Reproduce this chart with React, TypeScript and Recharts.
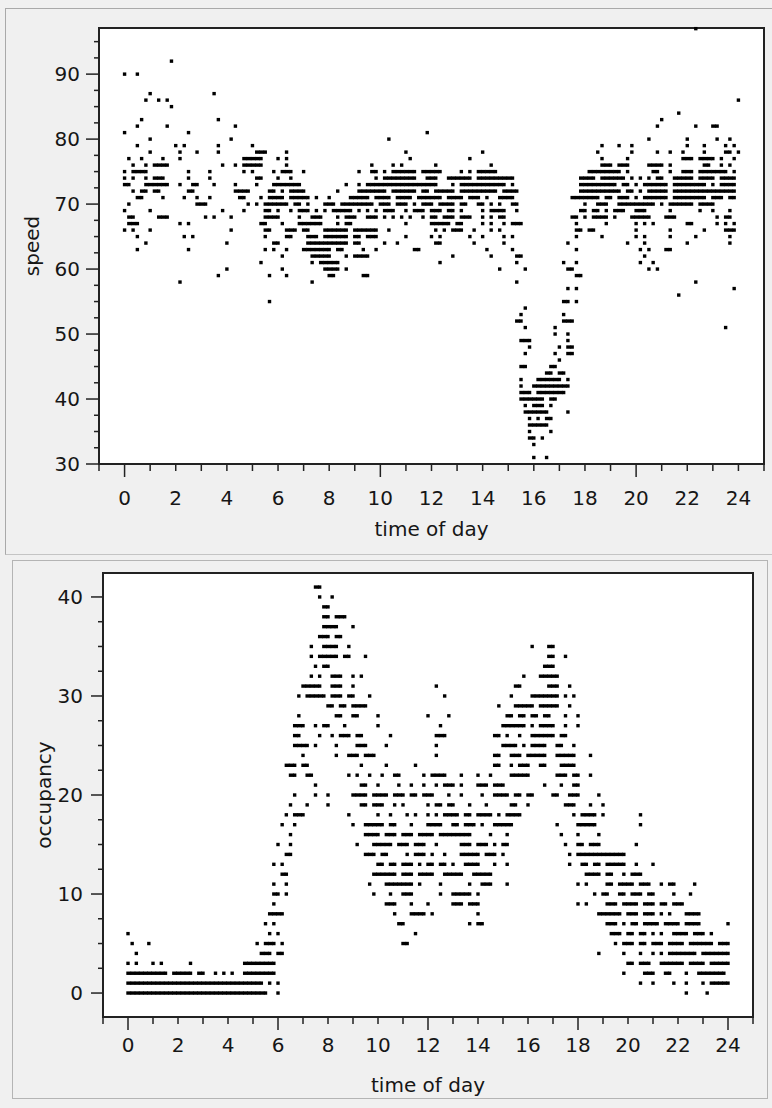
import { ScatterChart, Scatter, XAxis, YAxis, CartesianGrid, ReferenceArea } from 'recharts'

// hour ticks, labels
const hourTicks = [-1, 0, 1, 2, 3, 4, 5, 6, 7, 8, 9, 10, 11, 12, 13, 14, 15, 16, 17, 18, 19, 20, 21, 22, 23, 24, 25]
const hourLabels = [0, 2, 4, 6, 8, 10, 12, 14, 16, 18, 20, 22, 24]
const speedTicks = [30, 32.5, 35, 37.5, 40, 42.5, 45, 47.5, 50, 52.5, 55, 57.5, 60, 62.5, 65, 67.5, 70, 72.5, 75, 77.5, 80, 82.5, 85, 87.5, 90, 92.5, 95]
const speedLabels = [30, 40, 50, 60, 70, 80, 90]
const occupancyTicks = [0, 2.5, 5, 7.5, 10, 12.5, 15, 17.5, 20, 22.5, 25, 27.5, 30, 32.5, 35, 37.5, 40]
const occupancyLabels = [0, 10, 20, 30, 40]

// readings: [value, "hour:slots ..."], slot k = hour + k/6 (10 minute steps)
const speedRows: [number, string][] = [
  [97, '22:2'],
  [92, '1:5'],
  [90, '0:03'],
  [87, '1:0 3:3'],
  [86, '0:5 1:24 24:0'],
  [85, '1:5'],
  [84, '21:4'],
  [83, '0:4 3:4 21:0'],
  [82, '0:3 1:4 4:2 20:5 22:2 23:01'],
  [81, '0:0 2:3 11:5'],
  [80, '1:0 4:1 10:2 20:3 22:0 23:14'],
  [79, '0:3 2:02 3:4 5:0 18:4 19:25 22:04 23:35'],
  [78, '1:0 2:15 3:4 5:123 6:2 11:0 14:0 18:3 19:5 20:5 21:25 22:4 23:34 24:0'],
  [77, '0:14 1:3 2:1 4:45 5:012 6:02 11:1 13:3 18:4 19:4 21:5 22:01345 23:025'],
  [76, '0:25 1:1234 3:5 4:245 5:012 6:2 9:4 10:35 12:1 14:2 18:45 19:0234 20:345 21:02 22:45 23:24'],
  [75, '0:02345 2:3 3:2 4:4 5:05 6:123 7:0 9:145 10:1345 11:01245 12:012 13:135 14:0123 18:12345 19:0124 20:45 21:25 22:01345 23:01235'],
  [74, '0:025 1:123 2:3 3:2 5:12 6:03 9:5 10:12345 11:0125 12:0145 13:01235 14:012345 15:01 17:5 18:01245 19:01235 20:135 21:0345 22:01345 23:02345'],
  [73, '0:015 1:01234 2:145 3:3 4:2 5:15 6:012345 8:4 9:1345 10:012345 11:012345 12:015 13:12345 14:012345 15:1 17:5 18:012345 19:0134 20:02345 21:01345 22:01234 23:02345'],
  [72, '0:245 1:12 2:34 4:2345 5:45 6:1345 7:0 8:2 9:12345 10:01345 11:01245 12:12345 13:12345 14:01235 15:012 17:5 18:012345 19:01245 20:1345 21:01345 22:012345 23:012345'],
  [71, '0:34 1:3 2:25 3:2 4:34 5:245 6:01345 7:013 8:05 9:01235 10:01245 11:01345 12:01245 13:01345 14:145 15:01 17:345 18:01235 19:0234 20:02345 21:01345 22:01234 23:01245'],
  [70, '0:1 2:5 3:01 4:5 5:1345 6:01245 7:15 8:01345 9:01234 10:01245 11:0245 12:02345 13:125 14:024 15:12 18:0345 19:2345 20:01234 21:02345 22:01345 23:0'],
  [69, '0:0 1:0 3:5 4:4 5:34 6:035 7:0135 8:12345 9:135 10:123 11:0234 12:01245 13:1 14:02345 15:2 17:5 18:0235 19:123 20:012 21:2 22:3 23:04'],
  [68, '0:12 1:234 3:13 4:1 5:345 6:05 7:234 8:245 9:0345 10:135 11:14 12:01345 13:123 14:0245 17:34 18:02345 19:15 20:0123 21:123 23:134'],
  [67, '0:123 2:13 5:23 6:15 7:01234 8:245 11:0 12:01234 13:01 14:025 15:123 17:4 18:5 20:024 22:01 23:135'],
  [66, '0:02 1:0 4:1 5:34 6:234 7:015 8:01234 9:012345 10:2 12:135 13:014 14:24 17:45 18:12 20:0 21:2 22:4 23:345'],
  [65, '0:3 2:24 5:3 6:23 7:1235 8:01234 9:01345 11:0 12:02 13:3 14:05 15:1 17:4 18:4 20:02 21:2 22:2 23:4'],
  [64, '0:5 4:0 5:5 6:0 7:12345 8:01234 9:01 10:14 12:12 13:4 14:5 17:2 19:4 20:2 22:0 23:4'],
  [63, '0:3 2:3 5:35 6:2 7:012345 8:023 9:25 11:23 14:1 15:1 17:4 20:13 21:12'],
  [62, '6:1 7:2345 8:04 9:0123 12:5 14:2 15:23 20:2'],
  [61, '5:2 7:245 8:012 12:2 15:2 17:14 20:14'],
  [60, '4:0 6:1 7:5 8:0124 14:4 15:4 17:23 20:35'],
  [59, '3:4 5:4 6:2 8:01 9:23 17:45'],
  [58, '2:1 7:2 15:2 22:2'],
  [57, '17:24 23:5'],
  [56, '21:4'],
  [55, '5:4 17:124'],
  [54, '15:4'],
  [53, '15:3 17:1'],
  [52, '15:23 17:123'],
  [51, '15:4 16:5 23:3'],
  [50, '16:5 17:2'],
  [49, '15:345 17:2'],
  [48, '15:5 17:023'],
  [47, '15:4 16:5 17:23'],
  [46, '17:0'],
  [45, '15:34 16:45'],
  [44, '16:34 17:01'],
  [43, '15:3 16:12345 17:02'],
  [42, '15:3 16:012345 17:012'],
  [41, '15:345 16:12345 17:01'],
  [40, '15:345 16:01245'],
  [39, '15:4 16:0124'],
  [38, '15:45 16:0123 17:2'],
  [37, '15:5 16:134'],
  [36, '15:5 16:0123'],
  [35, '15:5 16:4'],
  [34, '15:5 16:02'],
  [33, '16:0'],
  [31, '16:03'],
]

const occupancyRows: [number, string][] = [
  [41, '7:34'],
  [40, '7:4 8:1'],
  [39, '7:5 8:0'],
  [38, '7:5 8:0234'],
  [37, '7:5 8:012 9:0'],
  [36, '7:45 8:023'],
  [35, '7:25 8:0125 16:15 17:0'],
  [34, '7:245 8:01245 9:3 16:5 17:03'],
  [33, '7:35 8:0 16:45 17:0'],
  [32, '7:24 8:123 9:02 15:5 16:345 17:01'],
  [31, '7:01234 8:123 9:0 12:2 15:34 16:5 17:014'],
  [30, '6:5 7:12345 8:1235 9:04 12:4 15:2 16:12345 17:0135'],
  [29, '8:0134 9:0123 14:5 15:345 16:01345 17:014'],
  [28, '6:5 8:23 9:01 10:0 12:05 15:1245 16:1245 17:3 18:0'],
  [27, '6:45 7:035 8:04 10:0 12:3 15:012345 16:1345 17:03 18:0'],
  [26, '6:45 7:4 8:1345 9:12 10:3 12:234 14:45 15:14 16:12345 17:023'],
  [25, '6:45 7:013 8:2 9:123 10:2 12:2 15:01235 16:1234 17:125'],
  [24, '7:0 8:25 9:01345 12:2 14:45 15:234 16:01234 17:12345 18:3'],
  [23, '6:234 7:01 9:2 10:2 11:3 14:45 15:245 16:034 17:2345'],
  [22, '6:34 7:12 8:5 9:14 10:145 11:5 12:1234 13:2 14:03 15:2345 16:0 17:1235 18:03'],
  [21, '7:3 9:23 10:05 11:25 12:245 13:02 14:01245 15:0 16:4 17:25 18:0'],
  [20, '6:4 7:3 8:0 9:01235 10:01245 11:0235 12:015 13:2 14:145 15:0134 16:01 17:0145 18:05'],
  [19, '6:3 7:1 8:0 9:235 10:014 11:0 12:0235 13:04 14:2 15:23 16:0 17:345 18:3 19:0'],
  [18, '6:245 7:0 8:5 10:03 11:13 12:0245 13:0134 14:01235 15:1234 17:5 18:1234 19:0 20:3'],
  [17, '6:14 9:0345 10:0134 11:2 12:0123 13:01345 14:145 15:012 17:1 18:01234 20:3'],
  [16, '6:3 9:345 10:0234 11:01245 12:01345 13:01234 14:3 15:1 17:2 18:05'],
  [15, '6:03 9:15 10:01235 11:01345 12:2 13:234 14:0124 15:01 17:3 18:01345 20:2'],
  [14, '6:23 9:345 10:12 11:1345 12:14 13:2345 14:0234 15:0 17:4 18:012345 19:012345'],
  [13, '5:5 6:1 10:0134 11:0124 12:0134 13:0345 14:04 15:1 17:4 18:1245 19:12345 20:2 21:0'],
  [12, '6:12 9:5 10:01234 11:01245 12:0145 13:0125 14:0123 18:2345 19:125 20:123'],
  [11, '5:5 6:2 9:4 10:2345 11:0124 12:3 13:4 14:123 15:1 18:02 19:1245 20:01345 21:245 22:4'],
  [10, '5:5 6:02 9:5 10:3 11:012 12:3 13:01234 14:0 18:4 19:0145 20:1235 21:05 22:3'],
  [9, '5:5 10:234 11:2 12:0 13:01245 14:0 18:02 19:1235 20:01245 21:0235 22:01'],
  [8, '5:45 6:01 10:4 11:2345 12:1 14:0 18:5 19:01234 20:01245 21:024 22:2345'],
  [7, '5:35 10:5 11:0 13:4 14:01 19:1235 20:1245 21:01345 22:02345 24:0'],
  [6, '0:0 5:4 6:0 11:3 19:234 20:0134 21:025 22:01245 23:02'],
  [5, '0:15 5:1345 6:1 11:01 19:35 20:0134 21:01245 22:01345 23:01245 24:0'],
  [4, '0:2 5:234 6:01 18:5 19:5 20:3 21:0245 22:01234 23:012345 24:0'],
  [3, '0:02 1:02 2:3 4:45 5:012345 20:01345 21:2345 22:01345 23:02345 24:0'],
  [2, '0:012345 1:01235 2:01235 3:035 4:145 5:012345 19:5 20:45 21:034 22:25 23:012345'],
  [1, '0:012345 1:012345 2:012345 3:012345 4:012345 5:0124 6:0 20:3 21:05 22:2 23:02345 24:0'],
  [0, '0:012345 1:012345 2:012345 3:012345 4:012345 5:0123 6:0 22:2 23:1'],
]

type Pt = { t: number; v: number; join: boolean }

function toPoints(rows: [number, string][]): Pt[] {
  const out: Pt[] = []
  for (const [v, s] of rows) {
    const slots = new Set<number>()
    for (const part of s.split(' ')) {
      const [h, ks] = part.split(':')
      for (const k of ks) slots.add(Number(h) * 6 + Number(k))
    }
    for (const n of slots) out.push({ t: n / 6, v, join: slots.has(n + 1) })
  }
  return out
}

const speedData = toPoints(speedRows)
const occupancyData = toPoints(occupancyRows)

const FONT = '"DejaVu Sans", sans-serif'
const INK = '#161616'
const FS = 20

const Dot = (props: any) => {
  const { cx, cy, payload } = props
  if (cx == null || cy == null) return null
  return <rect x={cx - 1.7} y={cy - 1.7} width={payload.join ? 4.9 : 3.4} height={3.4} fill="#000" />
}

const XTick = (props: any) => {
  const { x, y, payload, longTicks, labelDy } = props
  const v = payload.value
  const long = longTicks.includes(v)
  return (
    <g>
      <line x1={x} x2={x} y1={y} y2={y + (long ? 13 : 7)} stroke="#222" strokeWidth={1.5} />
      {hourLabels.includes(v) && (
        <text x={x} y={y + labelDy} textAnchor="middle" dominantBaseline="central" fontFamily={FONT} fontSize={FS} fill={INK}>
          {v}
        </text>
      )}
    </g>
  )
}

const YTick = (props: any) => {
  const { x, y, payload, labels, majorLen, gap } = props
  const v = payload.value
  const major = labels.includes(v)
  return (
    <g>
      <line x1={x - (major ? majorLen : 5)} x2={x} y1={y} y2={y} stroke="#222" strokeWidth={1.5} />
      {major && (
        <text x={x - majorLen - gap} y={y} textAnchor="end" dominantBaseline="central" fontFamily={FONT} fontSize={FS} fill={INK}>
          {v}
        </text>
      )}
    </g>
  )
}

const XTitle = (props: any) => {
  const { viewBox, dy } = props
  return (
    <text x={viewBox.x + viewBox.width / 2} y={viewBox.y + dy} textAnchor="middle" dominantBaseline="central" fontFamily={FONT} fontSize={FS} fill={INK}>
      time of day
    </text>
  )
}

const YTitle = (props: any) => {
  const { viewBox, cxPos, text } = props
  const x = cxPos
  const y = viewBox.y + viewBox.height / 2
  return (
    <text x={x} y={y} transform={`rotate(-90 ${x} ${y})`} textAnchor="middle" dominantBaseline="central" fontFamily={FONT} fontSize={FS} fill={INK}>
      {text}
    </text>
  )
}

export default function App() {
  return (
    <div style={{ position: 'absolute', left: 0, top: 0, width: 772, height: 1108, background: '#f0f0f0', overflow: 'hidden' }}>
      <div style={{ position: 'absolute', left: 5, top: 8, width: 767, height: 545, borderTop: '1px solid #a9a9a9', borderLeft: '1px solid #a9a9a9', borderBottom: '1px solid #c4c4c4' }} />
      <div style={{ position: 'absolute', left: 12, top: 560, width: 754, height: 537, border: '1px solid #b4b4b4' }} />

      <div style={{ position: 'absolute', left: 0, top: 0 }}>
        <ScatterChart width={772} height={555} margin={{ top: 28, right: 8, bottom: 31, left: 0 }}>
          <CartesianGrid fill="#fff" horizontal={false} vertical={false} />
          <XAxis
            type="number"
            dataKey="t"
            domain={[-1, 25]}
            ticks={hourTicks}
            interval={0}
            height={60}
            axisLine={false}
            tickLine={false}
            tickSize={0}
            tickMargin={0}
            tick={(p: any) => <XTick {...p} longTicks={[0, 10, 20]} labelDy={34} />}
            label={<XTitle dy={65} />}
          />
          <YAxis
            type="number"
            dataKey="v"
            domain={[30, 97.1]}
            ticks={speedTicks}
            interval={0}
            width={99}
            axisLine={false}
            tickLine={false}
            tickSize={0}
            tickMargin={0}
            tick={(p: any) => <YTick {...p} labels={speedLabels} majorLen={13} gap={6} />}
            label={<YTitle cxPos={32} text="speed" />}
          />
          <Scatter data={speedData} shape={Dot} isAnimationActive={false} />
          <ReferenceArea x1={-1} x2={25} y1={30} y2={97.1} fill="none" stroke="#222" strokeWidth={2} />
        </ScatterChart>
      </div>

      <div style={{ position: 'absolute', left: 0, top: 555 }}>
        <ScatterChart width={772} height={553} margin={{ top: 18, right: 19, bottom: 31, left: 0 }}>
          <CartesianGrid fill="#fff" horizontal={false} vertical={false} />
          <XAxis
            type="number"
            dataKey="t"
            domain={[-1, 25]}
            ticks={hourTicks}
            interval={0}
            height={60}
            axisLine={false}
            tickLine={false}
            tickSize={0}
            tickMargin={0}
            tick={(p: any) => <XTick {...p} longTicks={[0, 6, 12, 18, 24]} labelDy={28} />}
            label={<XTitle dy={68} />}
          />
          <YAxis
            type="number"
            dataKey="v"
            domain={[-2.42, 42.42]}
            ticks={occupancyTicks}
            interval={0}
            width={103}
            axisLine={false}
            tickLine={false}
            tickSize={0}
            tickMargin={0}
            tick={(p: any) => <YTick {...p} labels={occupancyLabels} majorLen={12} gap={8} />}
            label={<YTitle cxPos={44} text="occupancy" />}
          />
          <Scatter data={occupancyData} shape={Dot} isAnimationActive={false} />
          <ReferenceArea x1={-1} x2={25} y1={-2.42} y2={42.42} fill="none" stroke="#222" strokeWidth={2} />
        </ScatterChart>
      </div>
    </div>
  )
}
